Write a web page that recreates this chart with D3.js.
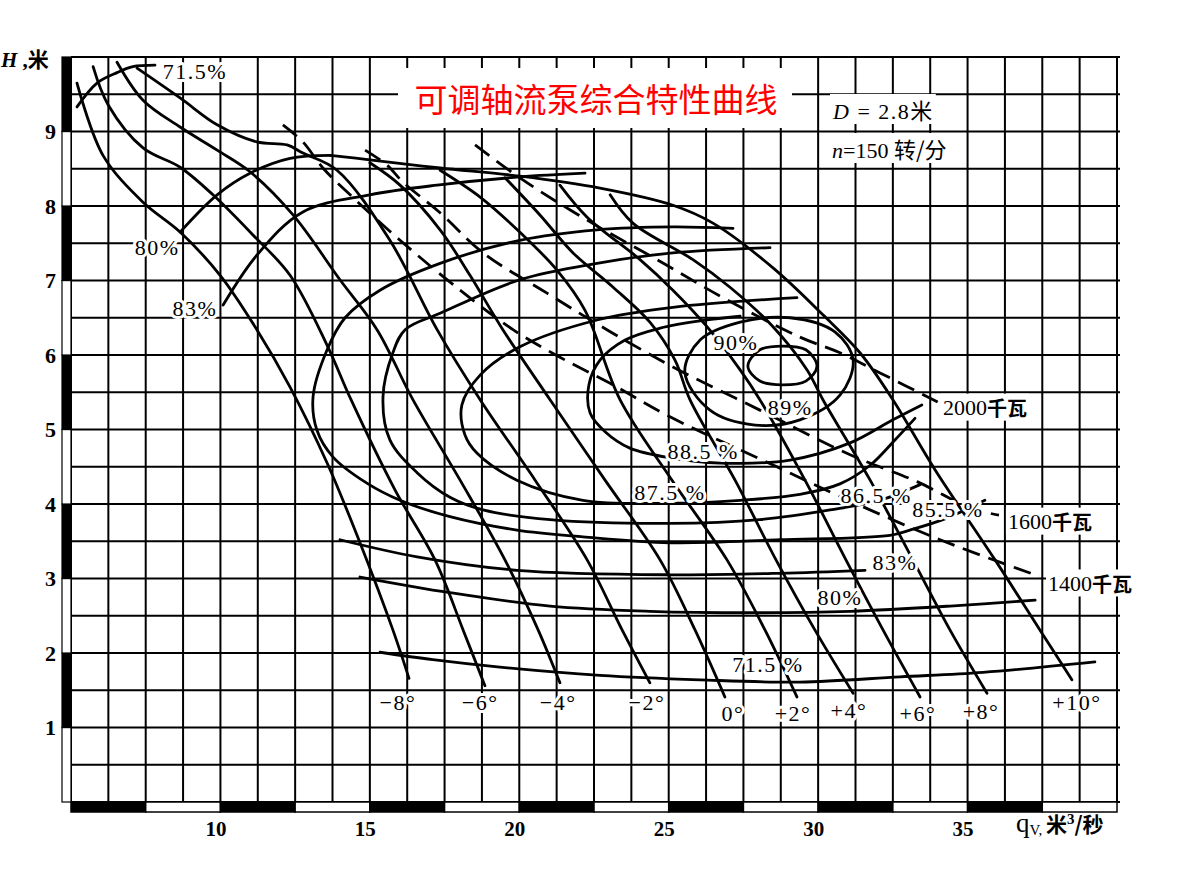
<!DOCTYPE html>
<html><head><meta charset="utf-8">
<script src="https://cdn.jsdelivr.net/npm/d3@7"></script>
<style>body{margin:0;background:#fff;} svg{display:block;}</style>
</head><body><svg id="c" width="1188" height="879"></svg>
<script>
// ---------- texts / ticks ----------
const chartTitle = "可调轴流泵综合特性曲线";
const xTickValues = [10, 15, 20, 25, 30, 35];
const yTickValues = [1, 2, 3, 4, 5, 6, 7, 8, 9];

// ---------- blade-angle H-Q lines [q (m3/s), H (m)] ----------
const bladeM8 = [[5.20,9.65],[6.07,8.68],[7.41,8.05],[8.65,7.65],[9.99,7.07],[11.22,6.34],[12.33,5.57],[13.57,4.55],[14.67,3.48],[15.77,2.31],[16.31,1.66]];
const bladeM6 = [[5.74,9.87],[6.24,9.36],[7.41,8.78],[8.65,8.52],[9.75,8.15],[11.09,7.61],[12.33,7.07],[13.57,6.13],[14.37,5.40],[15.84,4.19],[17.18,3.25],[18.12,2.31],[18.85,1.56]];
const bladeM4 = [[6.54,9.93],[7.41,9.42],[8.65,9.06],[9.89,8.75],[10.99,8.46],[12.43,7.88],[14.00,7.01],[15.24,6.34],[16.44,5.40],[18.02,4.32],[19.52,3.25],[20.63,2.31],[21.36,1.60]];
const bladeM2 = [[7.21,9.85],[8.65,9.45],[9.89,9.09],[11.22,8.86],[12.23,8.82],[12.76,8.71],[13.90,8.48],[15.67,7.54],[17.25,6.34],[18.69,5.40],[20.53,4.32],[22.27,3.25],[23.44,2.31],[24.37,1.60]];
const blade0  = [[15.00,8.58],[16.01,8.28],[17.35,7.68],[18.35,7.07],[19.45,6.34],[21.03,5.40],[22.87,4.32],[24.71,3.25],[25.88,2.31],[26.88,1.41]];
const bladeP2 = [[17.35,8.48],[18.69,8.12],[20.12,7.61],[21.26,7.14],[22.20,6.60],[23.37,5.40],[25.11,4.32],[26.95,3.25],[28.22,2.31],[29.29,1.41]];
const bladeP4 = [[19.52,8.38],[20.69,7.88],[21.80,7.37],[23.14,6.91],[24.37,6.44],[25.21,5.93],[25.71,5.40],[27.22,4.32],[28.59,3.25],[29.89,2.31],[31.17,1.46]];
const bladeP6 = [[21.36,8.28],[22.27,7.85],[24.04,7.28],[25.14,6.87],[26.28,6.38],[27.39,5.80],[28.05,5.40],[29.56,4.32],[30.93,3.25],[32.17,2.31],[33.41,1.41]];
const bladeP8 = [[23.04,8.15],[23.80,7.77],[25.81,7.28],[27.05,6.91],[28.49,6.38],[29.63,5.80],[30.16,5.40],[31.74,4.32],[33.17,3.25],[34.41,2.31],[35.65,1.46]];
const bladeP10 = [[13.67,8.68],[15.00,8.62],[17.35,8.51],[20.02,8.40],[22.70,8.24],[25.14,8.01],[26.48,7.77],[28.49,7.17],[30.16,6.54],[31.40,6.03],[32.50,5.40],[33.91,4.46],[35.92,3.25],[37.42,2.31],[38.49,1.64]];
const bladeNames = ["−8°","−6°","−4°","−2°","0°","+2°","+4°","+6°","+8°","+10°"];
const bladeLabelQ = [15.94, 18.69, 21.30, 24.27, 27.15, 29.16, 31.03, 33.34, 35.45, 38.66];
const bladeLabelH = [1.33, 1.33, 1.33, 1.34, 1.19, 1.19, 1.23, 1.19, 1.22, 1.33];

// ---------- efficiency contours ----------
const eff715a = [[5.20,9.33],[5.87,9.65],[6.54,9.79],[7.07,9.87],[7.81,9.89]];
const eff715b = [[15.34,2.01],[17.11,1.91],[19.35,1.81],[22.70,1.70],[26.05,1.64],[29.39,1.61],[32.74,1.68],[35.52,1.74],[39.26,1.88]];
const eff80a  = [[8.65,7.65],[9.89,8.15],[10.99,8.44],[12.33,8.64],[13.67,8.68]];
const eff80b  = [[14.67,3.02],[17.68,2.81],[21.03,2.63],[24.37,2.56],[27.72,2.54],[31.07,2.56],[34.41,2.63],[37.26,2.71]];
const eff83a  = [[10.09,6.67],[11.22,7.34],[12.76,7.92],[15.00,8.15],[17.25,8.28],[20.02,8.39],[22.20,8.44]];
const eff83b  = [[14.00,3.52],[16.58,3.29],[19.92,3.11],[25.04,3.05],[28.72,3.07],[31.57,3.11]];
const eff855  = [[27.15,7.70],[25.14,7.72],[22.60,7.68],[20.02,7.54],[17.35,7.23],[15.34,6.87],[14.17,6.50],[13.57,6.07],[13.10,5.44],[13.23,4.99],[13.77,4.63],[14.90,4.28],[16.01,4.05],[17.68,3.83],[19.92,3.65],[22.13,3.56],[25.04,3.48],[28.72,3.52],[32.40,3.58],[33.07,3.65],[34.24,3.80],[35.58,4.05]];
const eff865  = [[28.39,7.44],[25.14,7.37],[22.60,7.23],[20.02,7.01],[17.35,6.56],[16.18,6.34],[15.77,6.03],[15.44,5.44],[15.67,4.86],[16.58,4.42],[17.68,4.09],[18.79,3.92],[21.03,3.79],[25.04,3.74],[28.05,3.79],[30.40,3.92],[32.07,4.05],[33.41,4.26]];
const eff875  = [[29.29,6.77],[25.14,6.64],[22.60,6.47],[20.02,6.11],[18.69,5.73],[18.08,5.33],[18.18,4.93],[18.59,4.68],[19.92,4.32],[22.13,4.05],[25.04,4.01],[27.39,4.05],[29.39,4.13],[30.73,4.27],[31.74,4.52],[32.57,4.86],[33.24,5.15]];
const eff885  = [[27.39,6.52],[26.28,6.47],[24.71,6.36],[23.54,6.20],[22.70,5.93],[22.33,5.60],[22.37,5.22],[22.87,4.97],[23.70,4.75],[25.04,4.62],[26.72,4.55],[29.06,4.59],[31.07,4.82],[32.50,5.13],[33.47,5.33]];
const eff89   = [[25.54,5.77],[26.05,6.20],[27.39,6.44],[29.06,6.50],[30.56,6.31],[31.17,5.93],[30.73,5.46],[29.39,5.13],[27.89,5.06],[26.38,5.26]];
const eff90   = [[27.65,5.85],[28.05,6.07],[28.82,6.12],[29.59,6.07],[29.96,5.85],[29.59,5.65],[28.82,5.60],[28.05,5.65]];
const effLabels = ["71.5%","80%","83%","90%","89%","88.5 %","87.5 %","86.5 %","85.5 %","83%","80%","71.5 %"];
const effLabelQ = [9.15, 7.88, 9.15, 27.25, 29.06, 26.15, 25.04, 31.94, 34.34, 32.57, 30.73, 28.32];
const effLabelH = [9.80, 7.44, 6.62, 6.17, 5.29, 4.71, 4.16, 4.11, 3.92, 3.22, 2.74, 1.84];

// ---------- shaft power lines (dashed) ----------
const power1400 = [[12.09,9.09],[12.76,8.86],[13.43,8.51],[14.34,8.15],[16.01,7.54],[18.02,6.87],[19.79,6.34],[21.36,5.97],[23.04,5.62],[25.04,5.17],[28.62,4.50],[30.63,4.12],[34.08,3.52],[37.40,3.03]];
const power1600 = [[14.84,8.75],[15.57,8.55],[16.11,8.32],[17.35,7.91],[18.79,7.37],[20.93,6.83],[22.93,6.34],[25.14,5.84],[28.05,5.26],[31.07,4.66],[33.31,4.30],[35.08,3.95],[36.05,3.85]];
const power2000 = [[18.52,8.82],[20.12,8.35],[22.27,7.81],[24.61,7.28],[26.95,6.74],[29.39,6.24],[30.73,6.03],[32.07,5.76],[34.00,5.37]];
const powerNames = ["2000千瓦","1600千瓦","1400千瓦"];
const powerLabelQ = [34.18, 36.35, 37.69];
const powerLabelH = [5.30, 3.77, 2.94];

// ---------- drawing ----------
const svg = d3.select("#c");
const x = d3.scaleLinear().domain([5, 40]).range([71, 1117]);
const y = d3.scaleLinear().domain([0, 10]).range([802, 57]);
const serif = "'Liberation Serif','DejaVu Serif',serif";
const cjk = "'Noto Sans CJK SC','Noto Sans',sans-serif";

svg.append("rect").attr("width", 1188).attr("height", 879).attr("fill", "#fff");

// grid
const gq = d3.range(5, 40.001, 1.25);
const gh = d3.range(0, 10.001, 0.5);
const grid = svg.append("g").attr("stroke", "#000").attr("stroke-width", 2);
grid.selectAll("line.v").data(gq).join("line")
  .attr("x1", d => x(d)).attr("x2", d => x(d)).attr("y1", y(10)).attr("y2", y(0));
grid.selectAll("line.h").data(gh).join("line")
  .attr("y1", d => y(d)).attr("y2", d => y(d)).attr("x1", x(5)).attr("x2", x(40) + 3);

// bottom scale bar
const bq = d3.range(5, 40, 2.5);
svg.append("g").selectAll("rect").data(bq).join("rect")
  .attr("x", d => x(d)).attr("y", y(0)).attr("width", d => x(d + 2.5) - x(d)).attr("height", 10)
  .attr("fill", (d, i) => i % 2 === 0 ? "#000" : "#fff")
  .attr("stroke", "#000").attr("stroke-width", 1.5);
// left scale bar
const bh = d3.range(0, 10, 1);
svg.append("g").selectAll("rect").data(bh).join("rect")
  .attr("x", x(5) - 9).attr("y", d => y(d + 1)).attr("width", 9).attr("height", d => y(d) - y(d + 1))
  .attr("fill", (d, i) => i % 2 === 1 ? "#000" : "#fff")
  .attr("stroke", "#000").attr("stroke-width", 1.2);

// axes
const ax = svg.append("g").attr("transform", `translate(0,${y(0) + 10})`)
  .call(d3.axisBottom(x).tickValues(xTickValues).tickSize(0).tickPadding(9));
ax.select(".domain").remove();
ax.selectAll("text").attr("font-family", serif).attr("font-weight", "bold").attr("font-size", 21).attr("fill", "#000").attr("dx", -5);
const ay = svg.append("g").attr("transform", `translate(${x(5) - 10},0)`)
  .call(d3.axisLeft(y).tickValues(yTickValues).tickSize(0).tickPadding(5));
ay.select(".domain").remove();
ay.selectAll("text").attr("font-family", serif).attr("font-weight", "bold").attr("font-size", 22).attr("fill", "#000");

// axis titles
const yt = svg.append("text").attr("x", 1).attr("y", 67).attr("font-size", 21).attr("font-weight", "bold").attr("fill", "#000");
yt.append("tspan").attr("font-family", serif).attr("font-style", "italic").text("H");
yt.append("tspan").attr("font-family", serif).text(" ,");
yt.append("tspan").attr("font-family", cjk).text("米");
const xt = svg.append("text").attr("x", 1016).attr("y", 832).attr("fill", "#000");
xt.append("tspan").attr("font-family", serif).attr("font-size", 27).text("q");
xt.append("tspan").attr("font-family", serif).attr("font-size", 15).attr("dy", 3).text("V, ");
xt.append("tspan").attr("font-family", cjk).attr("font-size", 21).attr("font-weight", "bold").attr("dy", -3).text("米");
xt.append("tspan").attr("font-family", serif).attr("font-size", 15).attr("font-weight", "bold").attr("dy", -8).text("3");
xt.append("tspan").attr("font-family", cjk).attr("font-size", 21).attr("font-weight", "bold").attr("dy", 8).text("/秒");

// curves
const line = d3.line().x(d => x(d[0])).y(d => y(d[1])).curve(d3.curveCatmullRom.alpha(0.5));
const lineClosed = d3.line().x(d => x(d[0])).y(d => y(d[1])).curve(d3.curveCatmullRomClosed.alpha(0.5));
const curves = svg.append("g").attr("fill", "none").attr("stroke", "#000").attr("stroke-width", 2.8).attr("stroke-linecap", "round");
const blades = [bladeM8, bladeM6, bladeM4, bladeM2, blade0, bladeP2, bladeP4, bladeP6, bladeP8, bladeP10];
curves.selectAll("path.blade").data(blades).join("path").attr("class", "blade").attr("d", line);
const effOpen = [eff715a, eff715b, eff80a, eff80b, eff83a, eff83b, eff855, eff865, eff875, eff885];
curves.selectAll("path.eff").data(effOpen).join("path").attr("class", "eff").attr("d", line);
curves.selectAll("path.effc").data([eff89, eff90]).join("path").attr("class", "effc").attr("d", lineClosed);
curves.selectAll("path.pw").data([power2000, power1600, power1400]).join("path").attr("class", "pw")
  .attr("d", line).attr("stroke-dasharray", "18,9").attr("stroke-linecap", "butt");

// title box
svg.append("rect").attr("x", 398).attr("y", 68).attr("width", 394).attr("height", 60).attr("fill", "#fff");
svg.append("text").attr("x", 596).attr("y", 98).attr("text-anchor", "middle").attr("dominant-baseline", "central")
  .attr("font-family", cjk).attr("font-size", 33).attr("fill", "#ff0000").text(chartTitle);

// helpers
const halo = sel => sel.attr("stroke", "#fff").attr("stroke-width", 6).attr("paint-order", "stroke").attr("stroke-linejoin", "round");
function backRect(textSel, pad) {
  textSel.each(function () {
    const b = this.getBBox();
    d3.select(this.parentNode).insert("rect", () => this)
      .attr("x", b.x - pad).attr("y", b.y + 1).attr("width", b.width + 2 * pad).attr("height", b.height - 2)
      .attr("fill", "#fff");
  });
}

// parameter notes
const notes = svg.append("g");
const p1 = notes.append("text").attr("x", 833).attr("y", 119).attr("font-size", 22).attr("fill", "#000").attr("letter-spacing", 1.5);
p1.append("tspan").attr("font-family", serif).attr("font-style", "italic").text("D");
p1.append("tspan").attr("font-family", serif).text(" = 2.8");
p1.append("tspan").attr("font-family", cjk).text("米");
const p2 = notes.append("text").attr("x", 832).attr("y", 158).attr("font-size", 22).attr("fill", "#000");
p2.append("tspan").attr("font-family", serif).attr("font-style", "italic").text("n");
p2.append("tspan").attr("font-family", serif).text("=150 ");
p2.append("tspan").attr("font-family", cjk).text("转/分");
backRect(notes.selectAll("text"), 2);

// curve labels
const labels = svg.append("g").attr("font-family", serif).attr("font-size", 22).attr("fill", "#000")
  .attr("text-anchor", "middle").attr("dominant-baseline", "central").attr("letter-spacing", 1.5);
labels.selectAll("text.b").data(bladeNames).join("text").attr("class", "b")
  .attr("x", (d, i) => x(bladeLabelQ[i])).attr("y", (d, i) => y(bladeLabelH[i])).text(d => d).call(halo);
labels.selectAll("text.e").data(effLabels).join("text").attr("class", "e")
  .attr("x", (d, i) => x(effLabelQ[i])).attr("y", (d, i) => y(effLabelH[i])).text(d => d).call(halo);
const pl = labels.selectAll("text.p").data(powerNames).join("text").attr("class", "p")
  .attr("text-anchor", "start").attr("letter-spacing", 0)
  .attr("x", (d, i) => x(powerLabelQ[i])).attr("y", (d, i) => y(powerLabelH[i]));
pl.append("tspan").attr("font-family", serif).text(d => d.slice(0, 4));
pl.append("tspan").attr("font-family", cjk).attr("font-size", 20).attr("font-weight", "bold").text(d => d.slice(4));
backRect(pl, 2);
</script></body></html>
